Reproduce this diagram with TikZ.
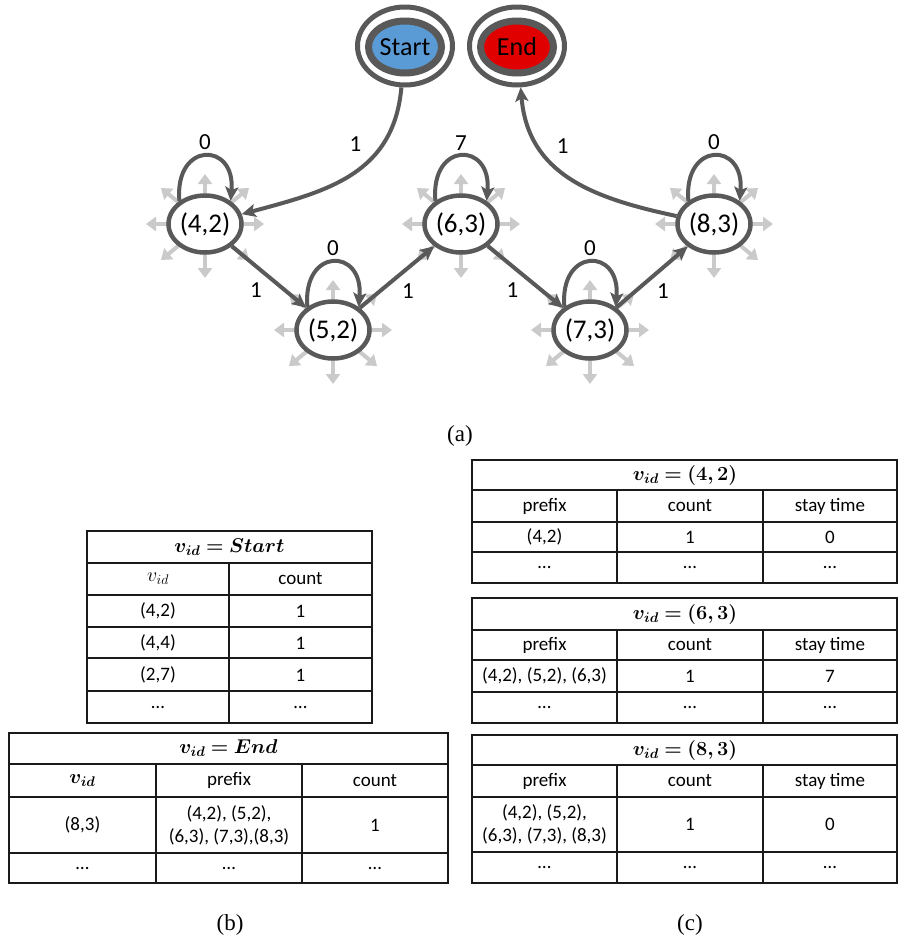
\RequirePackage{fix-cm}
\documentclass[tikz,border=0pt]{standalone}
\usepackage{amsmath,bm}
\usepackage[no-math]{fontspec}
\setmainfont{Carlito}
\newfontfamily\capfont{Liberation Serif}
\usetikzlibrary{arrows.meta,shapes.geometric}
\pgfdeclarelayer{bg}
\pgfsetlayers{bg,main}
\definecolor{edgegray}{HTML}{595959}
\definecolor{spikegray}{HTML}{CACACA}
\definecolor{startblue}{HTML}{5B9BD5}
\definecolor{endred}{HTML}{E00000}
\definecolor{rule}{HTML}{1A1A1A}
\newcommand\fsz[2]{\fontsize{#1pt}{#2pt}\selectfont}
\tikzset{
  state/.style={ellipse, draw=edgegray, line width=4.5pt, fill=white,
    minimum width=73pt, minimum height=57pt, inner sep=0pt, font=\fsz{27}{31}},
  ring/.style={ellipse, draw=edgegray, line width=5pt,
    minimum width=95pt, minimum height=78pt, inner sep=0pt},
  core/.style={ellipse, draw=edgegray, line width=7pt,
    minimum width=73pt, minimum height=52pt, inner sep=0pt, font=\fsz{26}{30}},
  edge/.style={draw=edgegray, line width=4pt,
    -{Stealth[length=14pt,width=13pt,inset=3pt]}},
  elabel/.style={font=\fsz{23}{27}, inner sep=1pt},
  spike/.style={draw=spikegray, line width=4pt,
    -{Triangle[length=10pt,width=14pt]}},
  tbl/.style={draw=rule, line width=1.6pt},
  cell/.style={font=\fsz{19}{23}, inner sep=0pt, align=center},
  mcell/.style={font=\fsz{20}{24}, inner sep=0pt},
  caption/.style={font=\capfont\fsz{23}{27}, inner sep=0pt}
}
\begin{document}
\begin{tikzpicture}[x=1pt,y=1pt]
\useasboundingbox (0,0) rectangle (898,-943);

% ---------- (a) state graph ----------
\node[ring] (start) at (405,-46) {};
\node[core, fill=startblue] (startin) at (405,-47) {Start};
\node[ring] (end) at (517,-46) {};
\node[core, fill=endred] (endin) at (517,-47) {End};

\node[state] (n42) at (205,-224) {(4,2)};
\node[state] (n52) at (333,-330) {(5,2)};
\node[state] (n63) at (461,-224) {(6,3)};
\node[state] (n73) at (590,-330) {(7,3)};
\node[state] (n83) at (714,-224) {(8,3)};

% light outward arrows around every state
\begin{pgfonlayer}{bg}
\foreach \n in {n42,n52,n63,n73,n83}{
  \foreach \dx/\dy in {0/50, 0/-54, 59/0, -59/0, 44/36, -44/36, 44/-36, -44/-36}
    \draw[spike] (\n.center) -- ++(\dx,\dy);
}
\end{pgfonlayer}

% self loops
\foreach \n/\w in {n42/0, n52/0, n63/7, n73/0, n83/0}{
  \draw[edge] (\n.138) .. controls +(95:60) and +(85:60) .. (\n.42)
    node[elabel, pos=0.5, above=3pt] {\w};
}

% transitions
\draw[edge] (start) to[out=-95, in=15, looseness=1.1]
  node[elabel, pos=0.5, xshift=5pt, yshift=31pt] {1} (n42);
\draw[edge] (n42) -- (n52) node[elabel, midway, xshift=-13pt, yshift=-13pt] {1};
\draw[edge] (n52) -- (n63) node[elabel, midway, xshift=11pt, yshift=-14pt] {1};
\draw[edge] (n63) -- (n73) node[elabel, midway, xshift=-13pt, yshift=-13pt] {1};
\draw[edge] (n73) -- (n83) node[elabel, midway, xshift=11pt, yshift=-14pt] {1};
\draw[edge] (n83) to[out=168, in=-85, looseness=1.1]
  node[elabel, pos=0.5, xshift=-7pt, yshift=31pt] {1} (end);

\node[caption] (capa) at (460,-436) {(a)};

% ---------- (b) tables ----------
% table for v_id = Start
\draw[tbl] (87,-531) rectangle (372,-723);
\foreach \y in {563,595,627,658,691} \draw[tbl] (87,-\y) -- (372,-\y);
\draw[tbl] (229,-563) -- (229,-723);
\node[mcell] (sh) at (229.5,-547) {$\bm{v_{id}=Start}$};
\node[mcell] (sa) at (158,-579) {$v_{id}$};
\node[cell] (sb) at (300.5,-579) {count};
\node[cell] (s1a) at (158,-611) {(4,2)};
\node[cell] (s1b) at (300.5,-611) {1};
\node[cell] (s2a) at (158,-643) {(4,4)};
\node[cell] (s2b) at (300.5,-643) {1};
\node[cell] (s3a) at (158,-675) {(2,7)};
\node[cell] (s3b) at (300.5,-675) {1};
\node[cell] (s4a) at (158,-707) {…};
\node[cell] (s4b) at (300.5,-707) {…};

% table for v_id = End
\draw[tbl] (9,-733) rectangle (448,-883);
\foreach \y in {764,797,853} \draw[tbl] (9,-\y) -- (448,-\y);
\foreach \x in {156,302} \draw[tbl] (\x,-764) -- (\x,-883);
\node[mcell] (eh) at (228.5,-748.5) {$\bm{v_{id}=End}$};
\node[mcell] (ea) at (82.5,-780.5) {$\bm{v_{id}}$};
\node[cell] (eb) at (229,-780.5) {prefix};
\node[cell] (ec) at (375,-780.5) {count};
\node[cell] (e1a) at (82.5,-825) {(8,3)};
\node[cell] (e1b) at (229,-825) {(4,2), (5,2),\\(6,3), (7,3),(8,3)};
\node[cell] (e1c) at (375,-825) {1};
\node[cell] (e2a) at (82.5,-868) {…};
\node[cell] (e2b) at (229,-868) {…};
\node[cell] (e2c) at (375,-868) {…};

\node[caption] (capb) at (230,-925) {(b)};

% ---------- (c) tables ----------
% v_id = (4,2)
\draw[tbl] (472,-460) rectangle (897,-583);
\foreach \y in {490,522,552} \draw[tbl] (472,-\y) -- (897,-\y);
\foreach \x in {617,763} \draw[tbl] (\x,-490) -- (\x,-583);
\node[mcell] (ah) at (685,-475) {$\bm{v_{id}=(4,2)}$};
\node[cell] (aa) at (544.5,-506) {prefix};
\node[cell] (ab) at (690,-506) {count};
\node[cell] (ac) at (830,-506) {stay time};
\node[cell] (a1a) at (544.5,-537) {(4,2)};
\node[cell] (a1b) at (690,-537) {1};
\node[cell] (a1c) at (830,-537) {0};
\node[cell] (a2a) at (544.5,-567.5) {…};
\node[cell] (a2b) at (690,-567.5) {…};
\node[cell] (a2c) at (830,-567.5) {…};

% v_id = (6,3)
\draw[tbl] (472,-598) rectangle (897,-723);
\foreach \y in {630,660,692} \draw[tbl] (472,-\y) -- (897,-\y);
\foreach \x in {617,763} \draw[tbl] (\x,-630) -- (\x,-723);
\node[mcell] (bh) at (685,-614) {$\bm{v_{id}=(6,3)}$};
\node[cell] (ba) at (544.5,-645) {prefix};
\node[cell] (bb) at (690,-645) {count};
\node[cell] (bc) at (830,-645) {stay time};
\node[cell] (b1a) at (544.5,-676) {(4,2), (5,2), (6,3)};
\node[cell] (b1b) at (690,-676) {1};
\node[cell] (b1c) at (830,-676) {7};
\node[cell] (b2a) at (544.5,-707.5) {…};
\node[cell] (b2b) at (690,-707.5) {…};
\node[cell] (b2c) at (830,-707.5) {…};

% v_id = (8,3)
\draw[tbl] (472,-735) rectangle (897,-883);
\foreach \y in {765,797,852} \draw[tbl] (472,-\y) -- (897,-\y);
\foreach \x in {617,763} \draw[tbl] (\x,-765) -- (\x,-883);
\node[mcell] (ch) at (685,-750) {$\bm{v_{id}=(8,3)}$};
\node[cell] (ca) at (544.5,-781) {prefix};
\node[cell] (cb) at (690,-781) {count};
\node[cell] (cc) at (830,-781) {stay time};
\node[cell] (c1a) at (544.5,-824.5) {(4,2), (5,2),\\(6,3), (7,3), (8,3)};
\node[cell] (c1b) at (690,-824.5) {1};
\node[cell] (c1c) at (830,-824.5) {0};
\node[cell] (c2a) at (544.5,-867.5) {…};
\node[cell] (c2b) at (690,-867.5) {…};
\node[cell] (c2c) at (830,-867.5) {…};

\node[caption] (capc) at (690,-925) {(c)};
\end{tikzpicture}
\end{document}
